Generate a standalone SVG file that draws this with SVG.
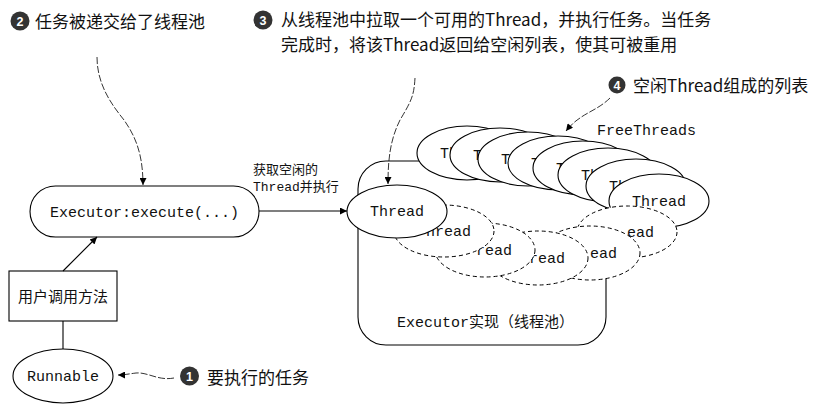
<svg xmlns="http://www.w3.org/2000/svg" width="821" height="413" viewBox="0 0 821 413">
<style>
.sh{fill:#fff;stroke:#000;stroke-width:1.1}
.dsh{fill:#fff;stroke:#000;stroke-width:1;stroke-dasharray:4 3}
.mono{font-family:"Liberation Mono","Noto Sans CJK SC",monospace;font-size:15px;fill:#111}
.cjk{font-family:"Noto Sans CJK SC",sans-serif;fill:#111}
.call{font-family:"Noto Sans CJK SC",sans-serif;font-size:17px;fill:#111}
.num{font-family:"Liberation Sans",sans-serif;font-size:12.5px;font-weight:bold;fill:#fff;text-anchor:middle}
.dot{fill:#333}
.ln{fill:none;stroke:#000;stroke-width:1.1}
.cl{fill:none;stroke:#000;stroke-width:0.8;stroke-dasharray:7 2}
</style>
<defs>
<marker id="ah" viewBox="0 0 10 10" refX="10" refY="5" markerWidth="9" markerHeight="7" markerUnits="userSpaceOnUse" orient="auto"><path d="M0,0 L10,5 L0,10 z" fill="#000"/></marker>
</defs>

<g id="executor-pool">
<path class="sh" d="M386,161 H578 A28,28 0 0 1 606,189 V317 A28,28 0 0 1 578,345 H386 A28,28 0 0 1 358,317 V189 A28,28 0 0 1 386,161 Z"/>
<text class="mono" x="397" y="327">Executor实现（线程池）</text>
</g>

<g id="free-threads">
<ellipse class="sh" cx="467" cy="153" rx="50" ry="27"/><text class="mono" x="440" y="158">Th</text>
<ellipse class="sh" cx="500" cy="155" rx="50" ry="27"/><text class="mono" x="473" y="160">Th</text>
<ellipse class="sh" cx="528" cy="159" rx="50" ry="27"/><text class="mono" x="501" y="164">Th</text>
<ellipse class="sh" cx="558" cy="163" rx="50" ry="27"/><text class="mono" x="531" y="168">Th</text>
<ellipse class="sh" cx="583" cy="168" rx="50" ry="27"/><text class="mono" x="556" y="173">Th</text>
<ellipse class="sh" cx="608" cy="175" rx="50" ry="27"/><text class="mono" x="581" y="180">Th</text>
<ellipse class="sh" cx="636" cy="186" rx="50" ry="27"/><text class="mono" x="609" y="191">Th</text>
<ellipse class="sh" cx="659" cy="201" rx="50" ry="27"/><text class="mono" x="659" y="206" text-anchor="middle">Thread</text>
<text class="mono" x="597" y="135">FreeThreads</text>
</g>

<g id="busy-threads">
<ellipse class="dsh" cx="627" cy="232" rx="50" ry="26"/><text class="mono" x="627" y="237">ead</text>
<ellipse class="dsh" cx="590" cy="253" rx="50" ry="27"/><text class="mono" x="590" y="258">ead</text>
<ellipse class="dsh" cx="538" cy="258" rx="50" ry="27"/><text class="mono" x="529" y="263">read</text>
<ellipse class="dsh" cx="485" cy="250" rx="50" ry="27"/><text class="mono" x="476" y="255">read</text>
<ellipse class="dsh" cx="444" cy="231" rx="50" ry="26"/><text class="mono" x="426" y="236">hread</text>
</g>

<g id="active-thread">
<ellipse class="sh" cx="397" cy="211.5" rx="50" ry="26.5"/>
<text class="mono" x="397" y="216" text-anchor="middle">Thread</text>
</g>

<g id="executor-execute">
<rect class="sh" x="30" y="186" width="229" height="51" rx="25.5" ry="25.5"/>
<text class="mono" x="144.5" y="217" text-anchor="middle">Executor:execute(...)</text>
</g>

<g id="user-call">
<rect class="sh" x="9" y="271" width="108" height="50"/>
<text class="cjk" x="63" y="302" font-size="15" text-anchor="middle">用户调用方法</text>
</g>

<g id="runnable">
<ellipse class="sh" cx="63" cy="376" rx="50" ry="27"/>
<text class="mono" x="63" y="381" text-anchor="middle">Runnable</text>
</g>

<g id="connectors">
<line class="ln" x1="259" y1="211" x2="347" y2="211" marker-end="url(#ah)"/>
<line class="ln" x1="63" y1="271" x2="97" y2="237" marker-end="url(#ah)"/>
<line class="ln" x1="63" y1="321" x2="63" y2="349"/>
<path class="cl" d="M174,378 C158,381 148,372 136,373 C128,374 124,375 118,375" marker-end="url(#ah)"/>
<path class="cl" d="M97,57 C97,85 112,105 124,120 C136,137 143,155 143,185" marker-end="url(#ah)"/>
<path class="cl" d="M415,78 C414,95 412,100 400,120 C390,140 388,160 388,184" marker-end="url(#ah)"/>
<path class="cl" d="M610,98 C600,108 588,112 580,118 C574,122 570,126 566,131" marker-end="url(#ah)"/>
<text class="cjk" font-size="13" x="253" y="174">获取空闲的</text>
<text x="253" y="191" font-size="13"><tspan font-family="Liberation Mono,monospace" fill="#111">Thread</tspan><tspan font-family="Noto Sans CJK SC,sans-serif" fill="#111">并执行</tspan></text>
</g>

<g id="callout-1">
<circle class="dot" cx="189.5" cy="376" r="9.5"/><text class="num" x="189.5" y="380.5">1</text>
<text class="call" x="207" y="384">要执行的任务</text>
</g>
<g id="callout-2">
<circle class="dot" cx="20" cy="21" r="9.5"/><text class="num" x="20" y="25.5">2</text>
<text class="call" x="35" y="28">任务被递交给了线程池</text>
</g>
<g id="callout-3">
<circle class="dot" cx="263" cy="20" r="9.5"/><text class="num" x="263" y="24.5">3</text>
<text class="call" x="281" y="26">从线程池中拉取一个可用的Thread，并执行任务。当任务</text>
<text class="call" x="281" y="51">完成时，将该Thread返回给空闲列表，使其可被重用</text>
</g>
<g id="callout-4">
<circle class="dot" cx="617" cy="85" r="8.5"/><text class="num" x="617" y="89.5">4</text>
<text class="call" x="633" y="92">空闲Thread组成的列表</text>
</g>
</svg>
